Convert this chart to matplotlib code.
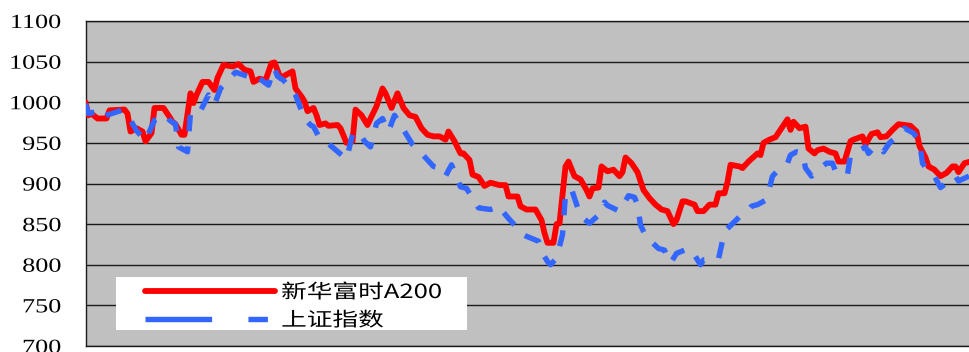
import matplotlib
matplotlib.use("Agg")
import matplotlib.pyplot as plt
from matplotlib.lines import Line2D
from matplotlib.patches import Rectangle
from matplotlib.patheffects import AbstractPathEffect
from matplotlib.transforms import Affine2D

# trading-day index and index levels
red_days = [0, 1, 2, 4, 7, 8, 13, 14, 15, 17, 19, 20, 22, 23, 26, 28, 29, 30, 32, 33,
            35, 36, 37, 39, 41, 43, 44, 46, 49, 51, 53, 55, 56, 58, 60, 62, 63, 65, 67, 69,
            70, 72, 73, 74, 76, 77, 78, 80, 81, 84, 85, 87, 89, 90, 92, 94, 95, 97, 99, 100,
            102, 104, 106, 108, 110, 112, 114, 116, 118, 120, 121, 123, 125, 126, 128, 129, 131, 133, 135, 138,
            140, 141, 144, 145, 147, 150, 152, 153, 154, 156, 157, 158, 160, 161, 163, 165, 167, 168, 169, 171,
            172, 174, 176, 178, 179, 180, 182, 184, 186, 188, 190, 192, 194, 196, 197, 199, 200, 203, 204, 206,
            208, 210, 211, 213, 214, 215, 218, 219, 221, 224, 225, 226, 228, 230, 232, 234, 235, 236, 238, 240,
            241, 243, 244, 246, 248, 250, 251, 253, 255, 256, 259, 260, 262, 264, 265, 267, 269, 271, 273, 275,
            277, 278, 280, 281, 283, 285, 287, 289, 290, 291, 293, 295]
red_vals = [1000, 984, 986, 980, 980, 990, 991, 986, 964, 968, 964, 952, 962, 993, 993, 982, 976, 973, 960, 960,
            1011, 999, 1009, 1025, 1025, 1015, 1030, 1046, 1044, 1047, 1040, 1038, 1025, 1029, 1027, 1048, 1049, 1030, 1034, 1038,
            1017, 1007, 1001, 989, 993, 984, 972, 974, 971, 972, 968, 950, 952, 991, 984, 972, 980, 995, 1017, 1011,
            993, 1011, 993, 984, 982, 968, 960, 958, 958, 954, 964, 952, 937, 937, 929, 911, 908, 897, 901, 898,
            898, 884, 884, 872, 868, 868, 855, 839, 827, 827, 850, 851, 921, 927, 909, 905, 892, 884, 894, 895,
            921, 915, 917, 909, 914, 932, 925, 914, 892, 882, 874, 868, 866, 850, 855, 878, 878, 874, 866, 866,
            874, 874, 888, 888, 902, 923, 921, 919, 927, 937, 935, 950, 954, 957, 968, 979, 966, 976, 968, 970,
            943, 937, 941, 943, 939, 937, 927, 927, 952, 954, 958, 948, 961, 963, 957, 958, 966, 973, 972, 971,
            964, 946, 932, 921, 917, 909, 913, 921, 921, 914, 925, 927]

blue_days = [0, 1, 3, 5, 7, 12, 15, 17, 20, 23, 27, 28, 30, 31, 34, 35, 38, 41, 43, 45,
             50, 54, 55, 58, 61, 63, 64, 66, 69, 70, 73, 75, 76, 78, 80, 87, 89, 91, 93, 95,
             97, 99, 101, 103, 105, 109, 111, 116, 118, 120, 122, 125, 127, 131, 133, 135, 138, 139, 141, 144,
             145, 147, 151, 153, 154, 155, 157, 159, 160, 162, 165, 168, 171, 173, 174, 178, 181, 183, 184, 185,
             187, 189, 191, 193, 195, 197, 201, 203, 205, 206, 211, 213, 218, 220, 222, 224, 227, 229, 231, 234,
             235, 237, 239, 240, 242, 245, 247, 249, 250, 253, 254, 255, 258, 260, 261, 263, 265, 266, 268, 270,
             273, 276, 278, 279, 281, 283, 285, 290, 291, 295]
blue_vals = [998, 986, 988, 980, 984, 990, 978, 965, 953, 978, 984, 978, 973, 945, 939, 987, 987, 1009, 997, 1017,
             1037, 1032, 1027, 1029, 1021, 1042, 1032, 1027, 1015, 1009, 980, 972, 970, 956, 952, 930, 960, 964, 952, 945,
             974, 980, 964, 984, 972, 948, 941, 921, 919, 909, 923, 896, 894, 870, 869, 868, 872, 866, 857, 845,
             839, 835, 829, 810, 804, 800, 808, 837, 887, 893, 860, 851, 861, 877, 873, 866, 885, 883, 874, 849,
             833, 827, 820, 818, 802, 814, 820, 812, 800, 806, 807, 841, 859, 863, 872, 874, 880, 909, 917, 925,
             935, 939, 937, 919, 909, 919, 925, 925, 915, 913, 911, 935, 941, 945, 937, 945, 945, 939, 950, 956,
             968, 962, 952, 925, 915, 909, 895, 909, 903, 910]

series_names = ["新华富时A200", "上证指数"]
yticks = [700, 750, 800, 850, 900, 950, 1000, 1050, 1100]

RED = "#FF0000"
BLUE = "#3366FF"


class StretchX(AbstractPathEffect):
    """Stretch glyphs horizontally about a fixed display x."""
    def __init__(self, s, x0):
        super().__init__()
        self.s = s
        self.x0 = x0

    def draw_path(self, renderer, gc, tpath, affine, rgbFace=None):
        t = affine + Affine2D().translate(-self.x0, 0).scale(self.s, 1).translate(self.x0, 0)
        renderer.draw_path(gc, tpath, t, rgbFace)


fig = plt.figure(figsize=(9.69, 3.52), dpi=100)
ax = fig.add_axes([85.5 / 969, 6 / 352, 1 - 85.5 / 969, 325 / 352])
ax.set_facecolor("#C0C0C0")

ax.plot(red_days, red_vals, color=RED, lw=4.2, solid_joinstyle="round",
        solid_capstyle="round", zorder=3)
ax.plot(blue_days, blue_vals, color=BLUE, lw=3.9, dashes=(3.0, 2.8),
        dash_capstyle="butt", zorder=4)

ax.set_xlim(0, 294.5)
ax.set_ylim(700, 1100)
ax.set_yticks(yticks)
ax.set_yticklabels([str(v) for v in yticks], family="Liberation Serif", fontsize=14.5)
ax.set_xticks([])
ax.tick_params(axis="y", length=0, pad=17.5)
ax.yaxis.grid(True, color="#1a1a1a", lw=1.0)
ax.set_axisbelow(True)
for side in ["left", "bottom", "top"]:
    ax.spines[side].set_color("#1a1a1a")
    ax.spines[side].set_linewidth(1.0)
ax.spines["right"].set_visible(False)

# white legend box
box = Rectangle(((116 - 85.5) / 883.5, (346 - 330) / 325), (467 - 116) / 883.5, (330 - 277) / 325,
                transform=ax.transAxes, facecolor="white", edgecolor="none", zorder=6)
ax.add_patch(box)

handles = [Line2D([], [], color=RED, lw=4.2, solid_capstyle="round"),
           Line2D([], [], color=BLUE, lw=3.9, dashes=(12.3, 6.7, 3.6, 6.9, 2.8, 10), dash_capstyle="butt")]
leg = ax.legend(handles, series_names, loc="upper left",
                bbox_to_anchor=(145 / 969, (352 - 282) / 352), bbox_transform=fig.transFigure,
                frameon=False, borderpad=0, borderaxespad=0, handlelength=6.7, handletextpad=0.3,
                labelspacing=0.36, prop={"family": ["Noto Sans CJK SC", "DejaVu Sans"], "size": 14})
leg.set_zorder(7)

# the reference image is stretched horizontally; stretch the texts alike
fig.canvas.draw()
for t in ax.get_yticklabels():
    bb = t.get_window_extent()
    t.set_path_effects([StretchX(1.3, bb.x1)])
for t in leg.get_texts():
    bb = t.get_window_extent()
    t.set_path_effects([StretchX(1.32, bb.x0)])

fig.savefig("out.png", dpi=100)
